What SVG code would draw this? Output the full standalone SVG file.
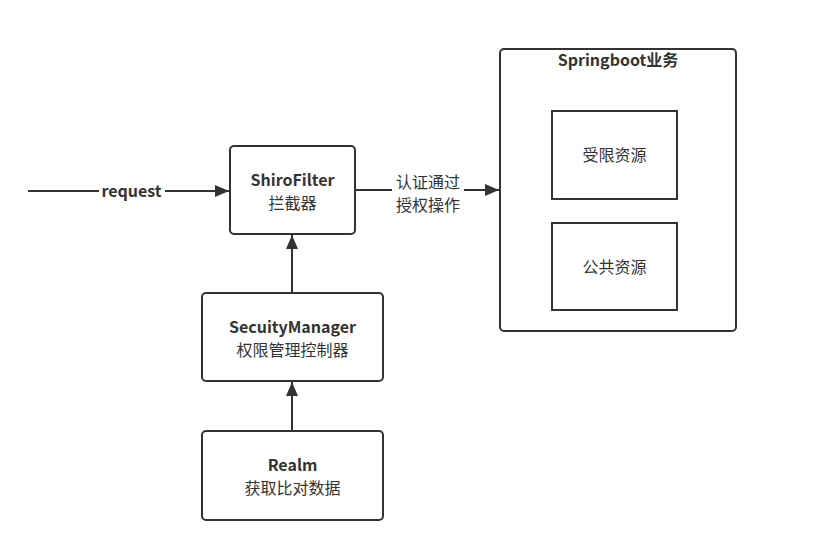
<svg xmlns="http://www.w3.org/2000/svg" width="825" height="535" viewBox="0 0 825 535">
<style>
.box{fill:#fff;stroke:#333;stroke-width:2}
.ln{stroke:#333;stroke-width:2;fill:none}
text{font-family:"Noto Sans CJK SC","Noto Sans",sans-serif;font-size:16px;fill:#333;text-anchor:middle}
.b{font-weight:bold}
</style>
<defs>
<marker id="ah" viewBox="0 0 14 12" refX="14" refY="6" markerWidth="14" markerHeight="12" markerUnits="userSpaceOnUse" orient="auto">
<path d="M0,0 L14,6 L0,12 z" fill="#333"/>
</marker>
</defs>
<rect width="825" height="535" fill="#fff"/>
<g id="springboot">
<rect class="box" x="500" y="49" width="236" height="282" rx="4"/>
<text class="b" x="618" y="66">Springboot业务</text>
</g>
<g id="restricted">
<rect class="box" x="552" y="111" width="125" height="88"/>
<text x="614.5" y="161">受限资源</text>
</g>
<g id="public">
<rect class="box" x="552" y="223" width="125" height="87"/>
<text x="614.5" y="273">公共资源</text>
</g>
<g id="shirofilter">
<rect class="box" x="230" y="146" width="125" height="88" rx="4"/>
<text class="b" x="292.5" y="185.5">ShiroFilter</text>
<text x="292.5" y="208.5">拦截器</text>
</g>
<g id="securitymanager">
<rect class="box" x="202" y="293" width="181" height="88" rx="4"/>
<text class="b" x="292.5" y="332.5">SecuityManager</text>
<text x="292.5" y="355.5">权限管理控制器</text>
</g>
<g id="realm">
<rect class="box" x="202" y="431" width="181" height="89" rx="4"/>
<text class="b" x="292.5" y="470.5">Realm</text>
<text x="292.5" y="493.5">获取比对数据</text>
</g>
<g id="connectors">
<line class="ln" x1="28" y1="191" x2="229" y2="191" marker-end="url(#ah)"/>
<rect x="99" y="181" width="66" height="20" fill="#fff"/>
<text class="b" x="131.5" y="197">request</text>
<line class="ln" x1="355" y1="190" x2="499" y2="190" marker-end="url(#ah)"/>
<rect x="392" y="171" width="72" height="42" fill="#fff"/>
<text x="428" y="187.5">认证通过</text>
<text x="428" y="210.5">授权操作</text>
<line class="ln" x1="292" y1="293" x2="292" y2="235" marker-end="url(#ah)"/>
<line class="ln" x1="292" y1="431" x2="292" y2="382" marker-end="url(#ah)"/>
</g>
</svg>
